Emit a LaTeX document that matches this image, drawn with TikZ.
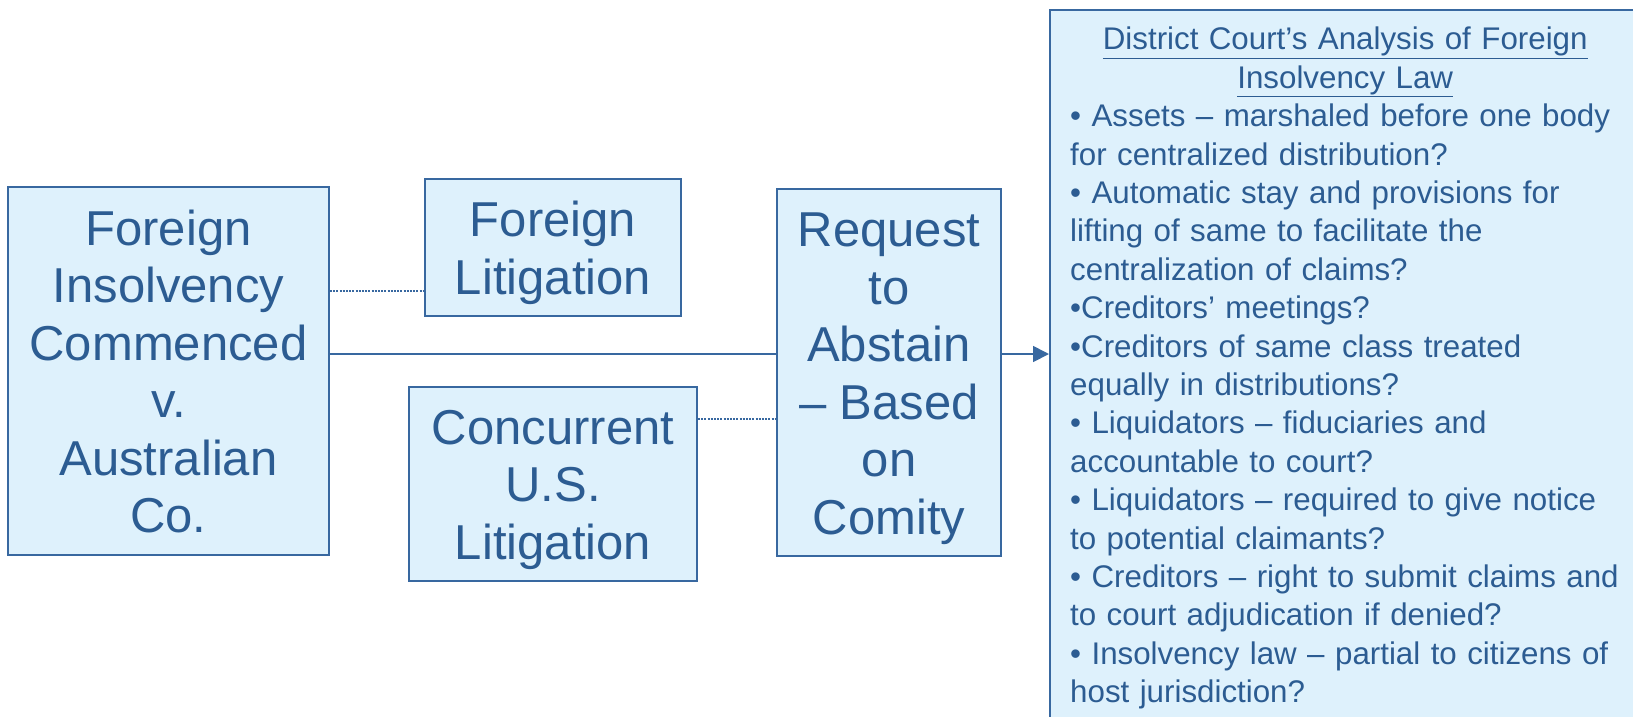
\documentclass[tikz,border=0pt]{standalone}
\usepackage{fontspec}
\setmainfont{Liberation Sans}
\usepackage{tikz}
\usetikzlibrary{arrows.meta,positioning}
\definecolor{boxfill}{RGB}{222,241,252}
\definecolor{boxline}{RGB}{56,104,160}
\definecolor{boxtext}{RGB}{44,92,146}
\newcommand{\linestrut}{\rule[-10pt]{0pt}{56pt}}
\tikzset{
  stepbox/.style={draw=boxline, fill=boxfill, line width=1.8pt, text=boxtext,
    align=center, inner sep=0pt, font=\fontsize{49}{57.5}\selectfont,
    execute at end node=\linestrut},
  mainline/.style={draw=boxline, line width=1.8pt},
  dotline/.style={draw=boxline, line width=1.6pt, dash pattern=on 2pt off 1.2pt},
  arrowline/.style={mainline, -{Triangle[length=16pt,width=16pt]}}
}

\begin{document}
\begin{tikzpicture}[x=1pt,y=-1pt]
   \useasboundingbox (0,0) rectangle (1633,716);
   \clip (0,0) rectangle (1633,716);

   \node[stepbox, minimum width=321pt, minimum height=368pt] (insolvency) at (168.5,371)
      {\linestrut Foreign\\Insolvency\\Commenced\\v.\\Australian\\Co.};
   \node[stepbox, minimum width=256pt, minimum height=137pt] (foreignlit) at (553,247.5)
      {\linestrut Foreign\\Litigation};
   \node[stepbox, minimum width=288pt, minimum height=194pt] (concurrent) at (553,484)
      {\linestrut Concurrent\\U.S.\\Litigation};
   \node[stepbox, minimum width=224pt, minimum height=367pt] (request) at (889,372.5)
      {\linestrut Request\\to\\Abstain\\– Based\\on\\Comity};
   \node[stepbox, anchor=north west, minimum width=700pt, minimum height=800pt] (analysis) at (1049,9) {};

   \node[anchor=north west, inner sep=0pt, text width=580pt, align=left, text=boxtext,
         font=\fontsize{31.3}{38.4}\selectfont] (criteria) at (1070,27)
      {\makebox[550pt][c]{\underline{District Court’s Analysis of Foreign}}\\
       \makebox[550pt][c]{\underline{Insolvency Law}}\\
       • Assets – marshaled before one body\\
       for centralized distribution?\\
       • Automatic stay and provisions for\\
       lifting of same to facilitate the\\
       centralization of claims?\\
       •Creditors’ meetings?\\
       •Creditors of same class treated\\
       equally in distributions?\\
       • Liquidators – fiduciaries and\\
       accountable to court?\\
       • Liquidators – required to give notice\\
       to potential claimants?\\
       • Creditors – right to submit claims and\\
       to court adjudication if denied?\\
       • Insolvency law – partial to citizens of\\
       host jurisdiction?};

   \coordinate (toplevel) at (0,291);
   \coordinate (midlevel) at (0,354);
   \coordinate (lowlevel) at (0,419);
   \draw[dotline] (insolvency.east |- toplevel) -- (foreignlit.west |- toplevel);
   \draw[mainline] (insolvency.east |- midlevel) -- (request.west |- midlevel);
   \draw[dotline] (concurrent.east |- lowlevel) -- (request.west |- lowlevel);
   \draw[arrowline] (request.east |- midlevel) -- (analysis.west |- midlevel);
\end{tikzpicture}
\end{document}
